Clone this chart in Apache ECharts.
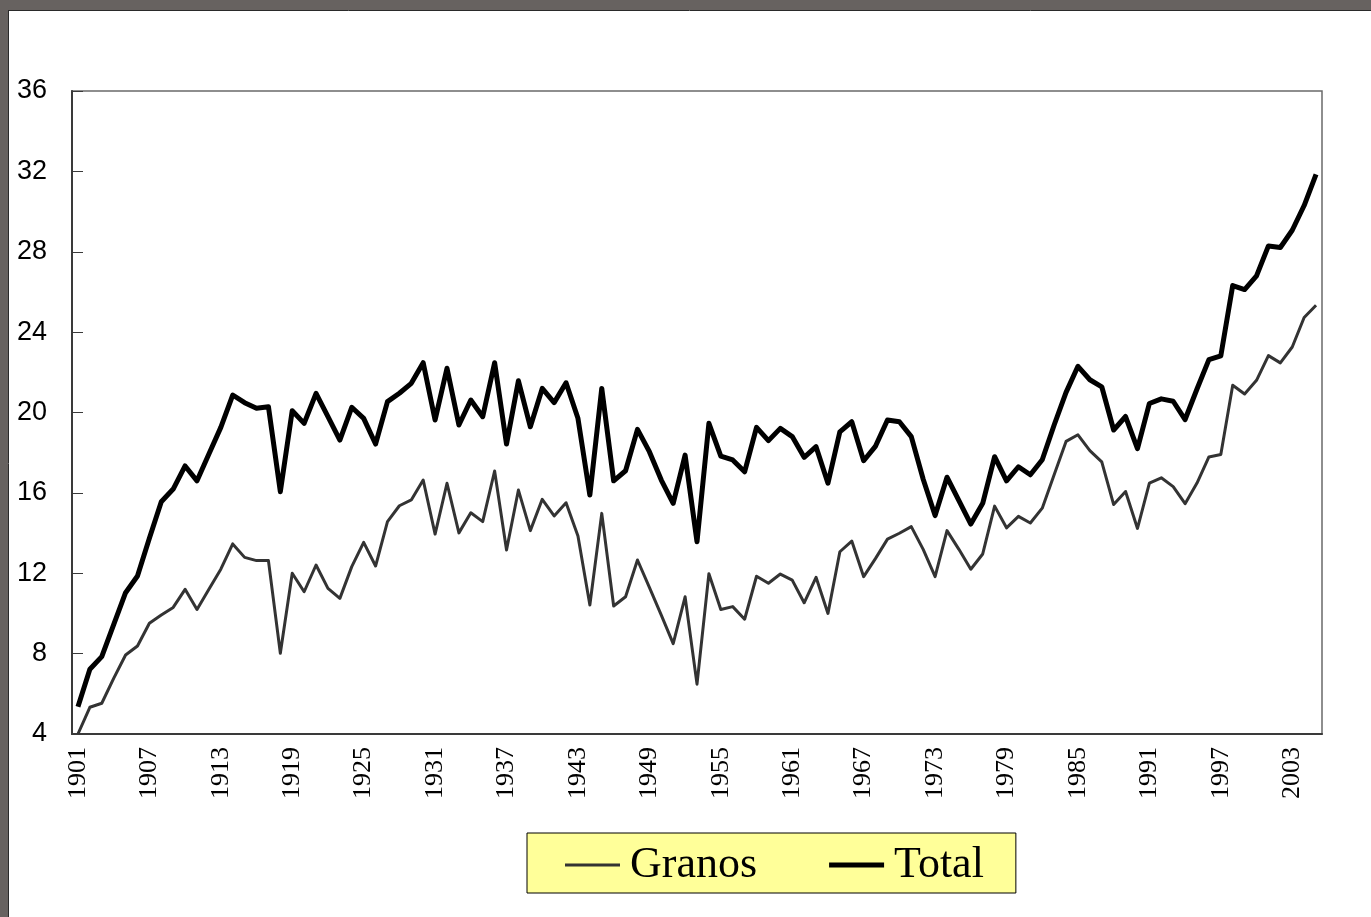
<!DOCTYPE html>
<html>
<head>
<meta charset="utf-8">
<script src="https://cdn.jsdelivr.net/npm/echarts@6/dist/echarts.min.js"></script>
<style>
html,body{margin:0;padding:0;background:#fff;}
#chart{width:1371px;height:917px;}
</style>
</head>
<body>
<div id="chart"></div>
<script>
const years = [];
for (let y = 1901; y <= 2005; y++) years.push(String(y));

const granos = [
4.0,5.33,5.53,6.77,7.93,8.38,9.51,9.92,10.3,11.2,
10.2,11.2,12.2,13.46,12.79,12.63,12.63,8.02,12.0,11.08,
12.41,11.25,10.75,12.33,13.54,12.36,14.57,15.36,15.65,16.64,
13.95,16.48,14.01,15.01,14.57,17.09,13.16,16.14,14.12,15.68,
14.85,15.51,13.85,10.42,14.98,10.37,10.83,12.66,11.3,9.92,
8.5,10.83,6.48,11.98,10.2,10.34,9.71,11.85,11.5,11.96,
11.66,10.53,11.8,10.0,13.07,13.6,11.83,12.74,13.7,13.99,
14.32,13.19,11.83,14.12,13.19,12.2,12.96,15.34,14.26,14.83,
14.5,15.24,16.9,18.56,18.89,18.1,17.54,15.42,16.07,14.23,
16.49,16.75,16.31,15.46,16.49,17.79,17.91,21.36,20.92,21.6,
22.83,22.47,23.26,24.73,25.34
];

const total = [
5.36,7.22,7.85,9.44,11.03,11.86,13.74,15.56,16.19,17.34,
16.6,17.93,19.26,20.87,20.49,20.21,20.29,16.06,20.09,19.46,
20.95,19.79,18.63,20.26,19.71,18.43,20.54,20.96,21.45,22.48,
19.63,22.2,19.38,20.62,19.79,22.48,18.43,21.58,19.29,21.2,
20.49,21.48,19.71,15.89,21.2,16.6,17.1,19.16,18.05,16.64,
15.48,17.88,13.57,19.46,17.83,17.64,17.05,19.26,18.6,19.21,
18.8,17.77,18.3,16.48,19.04,19.54,17.6,18.33,19.63,19.54,
18.8,16.68,14.87,16.78,15.61,14.45,15.48,17.8,16.6,17.3,
16.9,17.65,19.38,21.0,22.3,21.63,21.28,19.13,19.8,18.2,
20.45,20.68,20.56,19.65,21.17,22.63,22.82,26.32,26.12,26.8,
28.29,28.21,29.07,30.3,31.85
];

const seriesNames = ['Granos', 'Total'];

const chart = echarts.init(document.getElementById('chart'), null, {renderer: 'canvas'});
chart.setOption({
  animation: false,
  backgroundColor: '#ffffff',
  graphic: [
    {type: 'rect', left: 0, top: 0, shape: {width: 1371, height: 10}, style: {fill: '#676260'}, z: 100},
    {type: 'rect', left: 0, top: 0, shape: {width: 8, height: 917}, style: {fill: '#676260'}, z: 100},
    {type: 'line', shape: {x1: 8, y1: 10.5, x2: 1371, y2: 10.5}, style: {stroke: '#2a2a2a', lineWidth: 1}, z: 101},
    {type: 'line', shape: {x1: 8.5, y1: 10, x2: 8.5, y2: 917}, style: {stroke: '#2a2a2a', lineWidth: 1}, z: 101}
  ],
  grid: {
    left: 72, right: 49, top: 91, bottom: 183,
    show: true, borderColor: '#6a6a6a', borderWidth: 1.5
  },
  legend: {
    left: 527, top: 833,
    orient: 'horizontal',
    data: [
      {name: seriesNames[0], icon: 'path://M0,0M60,14M0,5.5H55V8.5H0Z'},
      {name: seriesNames[1], icon: 'path://M0,0M60,14M0,4.5H55V9.5H0Z'}
    ],
    backgroundColor: '#ffff99',
    borderColor: '#000',
    borderWidth: 1,
    borderRadius: 0,
    padding: [10, 32, 6, 38],
    itemGap: 72,
    itemWidth: 60,
    itemHeight: 14,
    textStyle: {fontFamily: 'Liberation Serif', fontSize: 44, color: '#000'}
  },
  xAxis: {
    type: 'category',
    data: years,
    boundaryGap: true,
    axisLine: {lineStyle: {color: '#3a3a3a', width: 2}},
    axisTick: {show: false},
    axisLabel: {
      interval: 5, rotate: 90, margin: 13,
      fontFamily: 'Liberation Serif', fontSize: 26, color: '#000'
    },
    splitLine: {show: false}
  },
  yAxis: {
    type: 'value',
    min: 4, max: 36, interval: 4,
    axisLine: {show: true, lineStyle: {color: '#3a3a3a', width: 2}},
    axisTick: {show: true, inside: true, length: 11, lineStyle: {color: '#3a3a3a', width: 1}},
    axisLabel: {margin: 25, fontFamily: 'Liberation Sans', fontSize: 27, color: '#000'},
    splitLine: {show: false}
  },
  series: [
    {
      name: 'Granos', type: 'line', data: granos,
      symbol: 'none', smooth: false,
      lineStyle: {color: '#333333', width: 3, join: 'round'},
      itemStyle: {color: '#333333'}
    },
    {
      name: 'Total', type: 'line', data: total,
      symbol: 'none', smooth: false,
      lineStyle: {color: '#000000', width: 5, join: 'round'},
      itemStyle: {color: '#000000'}
    }
  ]
});
</script>
</body>
</html>
